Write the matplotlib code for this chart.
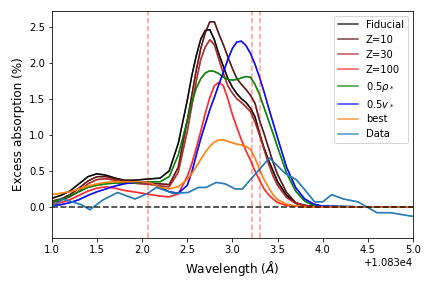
import matplotlib
matplotlib.use('Agg')
import matplotlib.pyplot as plt
import numpy as np

# wavelength offsets from 10830 A
x_model = [1.0, 1.1, 1.2, 1.3, 1.4, 1.5, 1.6, 1.7, 1.8, 1.9, 2.0, 2.1, 2.2, 2.3, 2.4,
           2.5, 2.55, 2.6, 2.65, 2.7, 2.75, 2.8, 2.85, 2.9, 2.95, 3.0, 3.05, 3.1, 3.15,
           3.2, 3.25, 3.3, 3.35, 3.4, 3.45, 3.5,
           3.6, 3.7, 3.8, 3.9, 4.0, 4.5, 5.0]

fiducial = [0.12, 0.16, 0.22, 0.32, 0.42, 0.46, 0.44, 0.40, 0.37, 0.37, 0.38, 0.39, 0.40, 0.50, 0.88,
            1.48, 1.82, 2.10, 2.33, 2.45, 2.46, 2.32, 2.12, 1.95, 1.78, 1.66, 1.57, 1.50, 1.45,
            1.37, 1.25, 1.02, 0.82, 0.65, 0.50, 0.35,
            0.16, 0.05, 0.02, 0.01, 0.0, 0.0, 0.0]
z10 = [0.08, 0.11, 0.17, 0.26, 0.36, 0.42, 0.42, 0.39, 0.36, 0.35, 0.34, 0.33, 0.32, 0.31, 0.55,
       1.20, 1.55, 1.90, 2.20, 2.42, 2.57, 2.57, 2.40, 2.25, 2.08, 1.92, 1.78, 1.70, 1.63,
       1.55, 1.44, 1.20, 1.02, 0.82, 0.62, 0.45,
       0.20, 0.06, 0.02, 0.01, 0.0, 0.0, 0.0]
z30 = [0.06, 0.09, 0.14, 0.22, 0.32, 0.38, 0.39, 0.37, 0.34, 0.33, 0.32, 0.31, 0.29, 0.28, 0.48,
       1.05, 1.40, 1.75, 2.05, 2.22, 2.32, 2.25, 2.05, 1.85, 1.68, 1.58, 1.50, 1.45, 1.39,
       1.32, 1.18, 1.00, 0.80, 0.60, 0.43, 0.30,
       0.13, 0.05, 0.02, 0.0, 0.0, 0.0, 0.0]
z100 = [0.04, 0.06, 0.10, 0.16, 0.22, 0.26, 0.28, 0.26, 0.23, 0.21, 0.19, 0.17, 0.15, 0.14, 0.18,
        0.42, 0.60, 0.82, 1.05, 1.30, 1.52, 1.68, 1.73, 1.68, 1.50, 1.28, 1.10, 0.93, 0.78,
        0.65, 0.50, 0.37, 0.25, 0.17, 0.11, 0.06,
        0.02, 0.01, 0.0, 0.0, 0.0, 0.0, 0.0]
half_rho = [0.07, 0.10, 0.15, 0.21, 0.27, 0.30, 0.32, 0.33, 0.33, 0.33, 0.34, 0.35, 0.35, 0.42, 0.72,
            1.20, 1.45, 1.65, 1.78, 1.86, 1.89, 1.88, 1.85, 1.80, 1.77, 1.76, 1.77, 1.79, 1.81,
            1.80, 1.70, 1.56, 1.38, 1.20, 1.02, 0.83,
            0.47, 0.22, 0.08, 0.02, 0.01, 0.0, 0.0]
half_v = [0.02, 0.03, 0.06, 0.10, 0.16, 0.21, 0.25, 0.29, 0.32, 0.34, 0.35, 0.33, 0.27, 0.21, 0.19,
          0.30, 0.48, 0.72, 0.95, 1.15, 1.35, 1.52, 1.70, 1.87, 2.05, 2.20, 2.29, 2.30, 2.24,
          2.13, 1.98, 1.80, 1.60, 1.38, 1.17, 0.96,
          0.55, 0.27, 0.11, 0.04, 0.01, 0.0, 0.0]
best = [0.17, 0.19, 0.21, 0.25, 0.29, 0.32, 0.34, 0.35, 0.35, 0.35, 0.35, 0.33, 0.27, 0.25, 0.28,
        0.38, 0.46, 0.56, 0.66, 0.76, 0.84, 0.90, 0.93, 0.93, 0.91, 0.89, 0.87, 0.86, 0.84,
        0.80, 0.68, 0.52, 0.38, 0.27, 0.17, 0.10,
        0.04, 0.01, 0.0, 0.0, 0.0, 0.0, 0.0]

x_data = [1.0, 1.12, 1.33, 1.42, 1.57, 1.73, 1.92, 2.05, 2.16, 2.34, 2.51, 2.62, 2.71, 2.82,
          2.92, 3.03, 3.11, 3.41, 3.58, 3.71, 3.82, 3.91, 4.0, 4.10, 4.23, 4.39, 4.49, 4.60,
          4.75, 4.99]
y_data = [0.0, 0.11, 0.03, -0.04, 0.10, 0.20, 0.11, 0.18, 0.27, 0.19, 0.20, 0.27, 0.27, 0.34,
          0.32, 0.25, 0.25, 0.68, 0.47, 0.375, 0.21, 0.07, 0.07, 0.17, 0.11, 0.07, 0.0, -0.08,
          -0.08, -0.13]

he_lines = [2.06, 3.22, 3.31]
base = 10830.0

models = [
    (fiducial, 'k', 'Fiducial'),
    (z10, '#5a1010', 'Z=10'),
    (z30, '#b02424', 'Z=30'),
    (z100, '#ff2424', 'Z=100'),
    (half_rho, 'green', r'0.5$\rho_*$'),
    (half_v, 'blue', r'0.5$v_*$'),
    (best, 'C1', 'best'),
]

fig = plt.figure(figsize=(6, 4), dpi=72)
ax = fig.add_axes([0.12, 0.174, 0.836, 0.788])

xm = base + np.array(x_model)
# each curve drawn twice (looks darker than the legend handle)
for y, c, lab in models:
    ax.plot(xm, y, color=c, alpha=0.8)
    ax.plot(xm, y, color=c, alpha=0.8, label=lab)
xd = base + np.array(x_data)
ax.plot(xd, y_data, color='C0', alpha=0.8)
ax.plot(xd, y_data, color='C0', alpha=0.8, label='Data')

for w in he_lines:
    ax.axvline(base + w, color='red', ls='--', alpha=0.4)
ax.axhline(0, color='k', ls='--', lw=1.6, alpha=0.8)

ax.set_xlim(base + 1.0, base + 5.0)
ax.set_ylim(-0.43, 2.72)
ax.set_xlabel(r'Wavelength ($\AA$)', fontsize=12)
ax.set_ylabel('Excess absorption (%)', fontsize=12)
ax.legend(loc='upper right', fontsize=10)

fig.savefig('out.png', dpi=72)
